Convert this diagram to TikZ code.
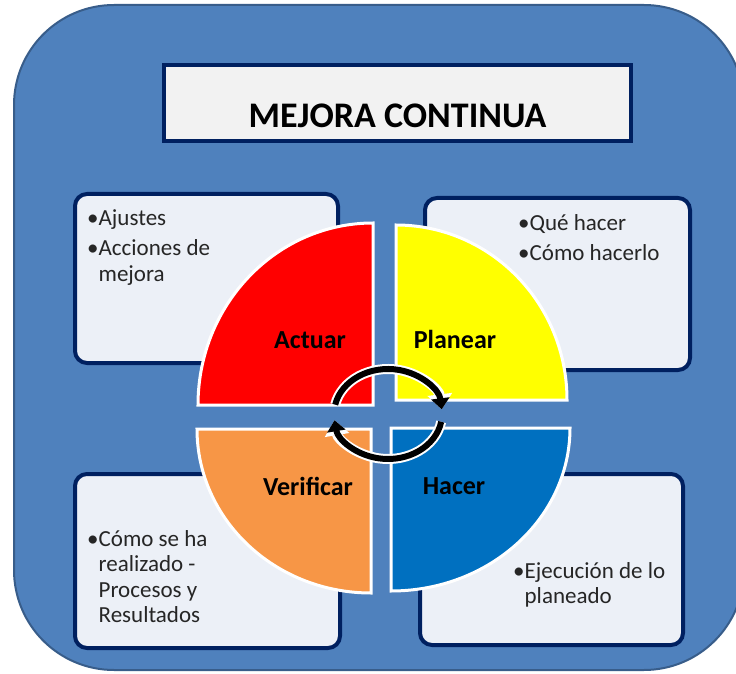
\documentclass[tikz,border=0pt]{standalone}
\usepackage{fontspec}
\setmainfont{Carlito}
\usetikzlibrary{arrows.meta, positioning}
\definecolor{frameblue}{RGB}{79,129,189}
\definecolor{framedark}{RGB}{56,93,138}
\definecolor{navy}{RGB}{0,32,96}
\definecolor{notefill}{RGB}{236,240,247}
\definecolor{titlefill}{RGB}{242,242,242}
\definecolor{actred}{RGB}{255,0,0}
\definecolor{planyellow}{RGB}{255,255,0}
\definecolor{verorange}{RGB}{247,150,70}
\definecolor{hacblue}{RGB}{0,112,192}
\tikzset{
    note box/.style = {rectangle, rounded corners=12pt, draw=navy, line width=4pt, fill=notefill},
    title box/.style = {rectangle, sharp corners, draw=navy, line width=4pt, fill=titlefill},
    note text/.style = {anchor=north west, inner sep=0pt, align=left, text=black!85, font=\fontsize{23}{25.5}\selectfont},
    quad/.style = {draw=white, line width=3pt, line join=miter},
    quad label/.style = {font=\fontsize{26}{30}\selectfont\bfseries},
    cycle arrow/.style = {black, line width=6pt, -{Triangle[length=11pt,width=18pt]}},
    cycle halo/.style = {white, line width=10pt, -{Triangle[length=15pt,width=24pt]}}
}

\begin{document}
\begin{tikzpicture}[x=1pt, y=1pt]
    \useasboundingbox (0,0) rectangle (736,673);
    \clip (0,0) rectangle (736,673);
    \fill[white] (0,0) rectangle (736,673);
    \draw[fill=frameblue, draw=framedark, line width=2pt, rounded corners=100pt] (14,3) rectangle (744,668);

    % title
    \node[title box, minimum width=467pt, minimum height=76pt] (titlebox) at (397.5,570) {};
    \node[font=\fontsize{36}{42}\selectfont\bfseries] (title) at ([yshift=-13pt]titlebox.center) {MEJORA CONTINUA};

    % note boxes
    \node[note box, minimum width=263pt, minimum height=169pt] (actbox) at (206.5,394.5) {};
    \node[note box, minimum width=265pt, minimum height=172pt] (planbox) at (557.5,389) {};
    \node[note box, minimum width=265pt, minimum height=174pt] (verbox) at (207.5,112) {};
    \node[note box, minimum width=263pt, minimum height=171pt] (hacbox) at (551.5,113.5) {};

    \node[note text] (acttext) at ([xshift=14pt,yshift=-17pt]actbox.north west)
        {•Ajustes\\[5pt]•Acciones de\\\hphantom{•}mejora};
    \node[note text] (plantext) at ([xshift=95pt,yshift=-18pt]planbox.north west)
        {•Qué hacer\\[5pt]•Cómo hacerlo};
    \node[note text] (vertext) at ([xshift=14pt,yshift=-58pt]verbox.north west)
        {•Cómo se ha\\\hphantom{•}realizado -\\\hphantom{•}Procesos y\\\hphantom{•}Resultados};
    \node[note text] (hactext) at ([xshift=95pt,yshift=-90pt]hacbox.north west)
        {•Ejecución de lo\\\hphantom{•}planeado};

    % quadrants
    \filldraw[quad, fill=actred] (373,268) -- ++(0,182) arc[start angle=90, end angle=180, x radius=175, y radius=182] -- cycle;
    \filldraw[quad, fill=planyellow] (396,273) -- ++(171,0) arc[start angle=0, end angle=90, x radius=171, y radius=175] -- cycle;
    \filldraw[quad, fill=verorange] (371,244) -- ++(-174,0) arc[start angle=180, end angle=270, x radius=174, y radius=164] -- cycle;
    \filldraw[quad, fill=hacblue] (391,245) -- ++(0,-163) arc[start angle=270, end angle=360, x radius=179, y radius=163] -- cycle;

    \node[quad label] (actuar) at (310,333) {Actuar};
    \node[quad label] (planear) at (455,334) {Planear};
    \node[quad label] (verificar) at (308,187) {Verificar};
    \node[quad label] (hacer) at (454,187) {Hacer};

    % cycle arrows
    \coordinate (cyc) at (388,259);
    \foreach \s/\e in {168/6, 350/188} {
        \draw[cycle halo] ([shift={(\s:54 and 45)}]cyc) arc[start angle=\s, end angle=\e, x radius=54, y radius=45];
        \draw[cycle arrow] ([shift={(\s:54 and 45)}]cyc) arc[start angle=\s, end angle=\e, x radius=54, y radius=45];
    }
\end{tikzpicture}
\end{document}
